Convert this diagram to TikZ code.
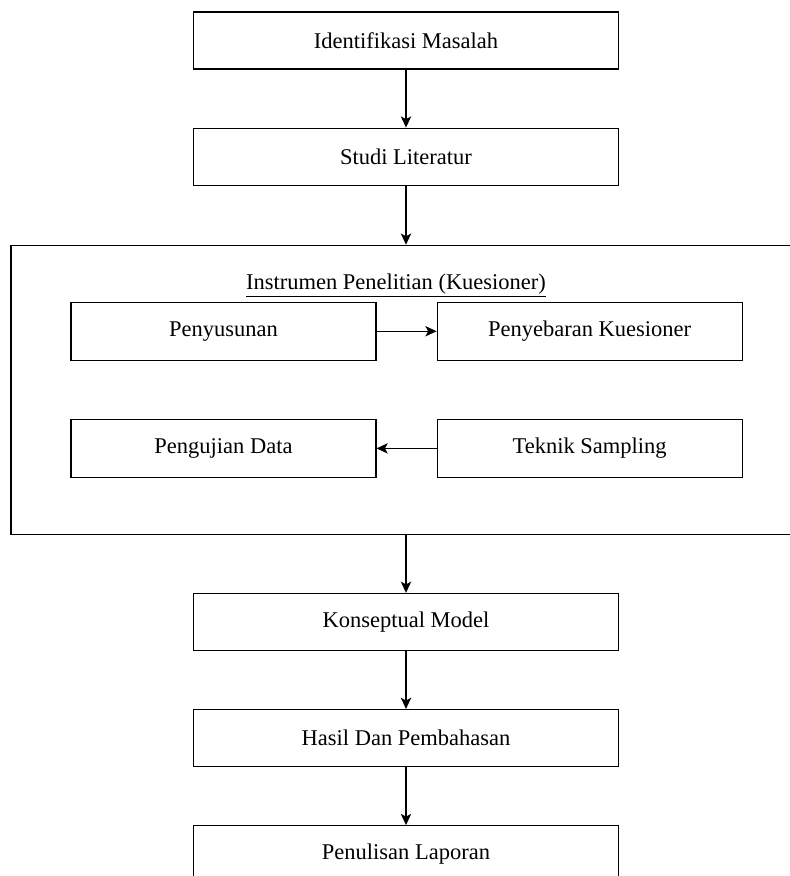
\documentclass[tikz,border=0pt]{standalone}
\usepackage{fontspec}
\setmainfont{Liberation Serif}
\usetikzlibrary{arrows.meta,positioning}
\tikzstyle{tahap} = [rectangle, minimum width=10.625cm, minimum height=1.425cm, text centered, draw=black, thick]
\tikzstyle{subtahap} = [rectangle, minimum width=7.625cm, minimum height=1.45cm, text centered, draw=black, thick]
\tikzstyle{wadah} = [rectangle, minimum width=19.75cm, minimum height=7.225cm, draw=black, thick]
\tikzstyle{arrow} = [thick,-{Stealth[length=2.8mm,width=2.6mm,inset=0.7mm]},color=black]

\begin{document}
\begin{tikzpicture}[font=\fontsize{16}{19}\selectfont]
\useasboundingbox (0,0) rectangle (19.75,-21.9);
% Tahap awal
\node (identifikasi) [tahap] at (10.15,-1.0125) {Identifikasi Masalah};
\node (studi) [tahap, below=1.45cm of identifikasi] {Studi Literatur};

% Instrumen penelitian
\node (instrumen) [wadah, below=1.475cm of studi] {};
\node (judul) [below=0.72cm of instrumen.north, xshift=-0.25cm, inner sep=0] {\underline{Instrumen Penelitian (Kuesioner)}};
\node (penyusunan) [subtahap, below right=1.425cm and 1.5cm of instrumen.north west] {Penyusunan};
\node (penyebaran) [subtahap, right=1.5cm of penyusunan] {Penyebaran Kuesioner};
\node (pengujian) [subtahap, below=1.45cm of penyusunan] {Pengujian Data};
\node (teknik) [subtahap, below=1.45cm of penyebaran] {Teknik Sampling};

% Tahap akhir
\node (konseptual) [tahap, below=1.45cm of instrumen] {Konseptual Model};
\node (hasil) [tahap, below=1.45cm of konseptual] {Hasil Dan Pembahasan};
\node (laporan) [tahap, below=1.45cm of hasil] {Penulisan Laporan};

% Arrows
\draw [arrow] (identifikasi) -- (studi);
\draw [arrow] (studi) -- (instrumen);
\draw [arrow] (penyusunan) -- (penyebaran);
\draw [arrow] (teknik) -- (pengujian);
\draw [arrow] (instrumen) -- (konseptual);
\draw [arrow] (konseptual) -- (hasil);
\draw [arrow] (hasil) -- (laporan);
\end{tikzpicture}
\end{document}
